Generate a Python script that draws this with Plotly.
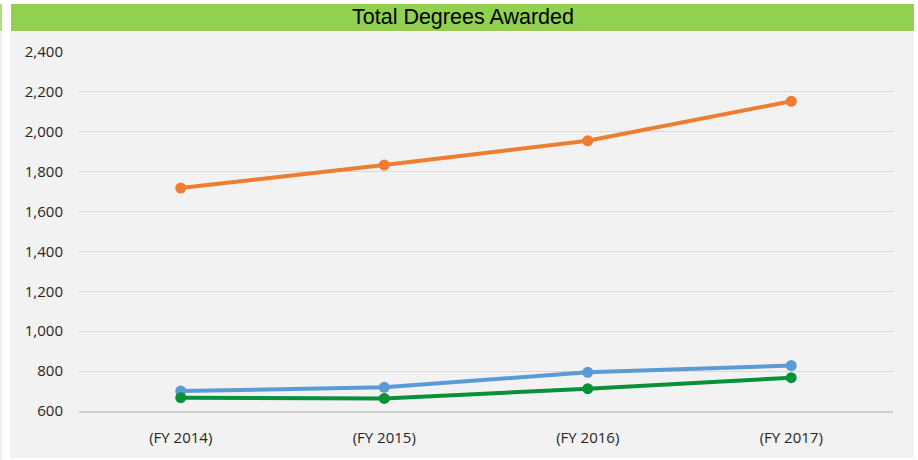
import plotly.graph_objects as go

categories = ["(FY 2014)", "(FY 2015)", "(FY 2016)", "(FY 2017)"]
series_orange = [1718, 1833, 1955, 2153]
series_blue = [700, 719, 794, 828]
series_green = [667, 663, 712, 767]
y_ticks = [600, 800, 1000, 1200, 1400, 1600, 1800, 2000, 2200, 2400]
y_tick_labels = ["600", "800", "1,000", "1,200", "1,400", "1,600", "1,800", "2,000", "2,200", "2,400"]

W, H = 918, 460
L, R, T, B = 79, 25, 52, 49
pw = W - L - R
ph = H - T - B

def px(x):
    return (x - L) / pw

def py(y):
    return (H - B - y) / ph

fig = go.Figure()
for vals, col in [(series_orange, "#ED7D31"), (series_blue, "#5B9BD5"), (series_green, "#079139")]:
    fig.add_trace(go.Scatter(
        x=categories, y=vals, mode="lines+markers",
        line=dict(color=col, width=4),
        marker=dict(color=col, size=11),
        showlegend=False, hoverinfo="skip",
    ))

shapes = [
    dict(type="rect", xref="paper", yref="paper", x0=px(10), x1=px(914), y0=py(458), y1=py(32),
         fillcolor="#F2F2F2", line=dict(width=0), layer="below"),
    dict(type="rect", xref="paper", yref="paper", x0=px(11), x1=px(914), y0=py(31), y1=py(4),
         fillcolor="#92D050", line=dict(width=0), layer="below"),
    dict(type="line", xref="paper", yref="paper", x0=px(1), x1=px(1), y0=py(460), y1=py(32),
         line=dict(color="#E0E0E0", width=1), layer="below"),
    dict(type="line", xref="paper", yref="paper", x0=px(1), x1=px(1), y0=py(31), y1=py(4),
         line=dict(color="#92D050", width=1.5), layer="below"),
]

fig.update_layout(
    width=W, height=H,
    margin=dict(l=L, r=R, t=T, b=B),
    paper_bgcolor="white",
    plot_bgcolor="rgba(0,0,0,0)",
    shapes=shapes,
    annotations=[dict(text="Total Degrees Awarded", xref="paper", yref="paper",
                      x=px(463), y=py(17.5), xanchor="center", yanchor="middle",
                      showarrow=False, font=dict(family="Liberation Sans, Arial", size=21.5, color="#000000"))],
    xaxis=dict(
        type="category", range=[-0.5, 3.5], showgrid=False, zeroline=False,
        showline=True, linecolor="#D0D0D0", linewidth=2,
        tickfont=dict(family="Open Sans", size=15, color="#262626"),
        ticks="", ticklabelstandoff=12, fixedrange=True,
    ),
    yaxis=dict(
        range=[600, 2400], tickvals=y_ticks, ticktext=y_tick_labels,
        showgrid=True, gridcolor="#D9D9D9", gridwidth=1, zeroline=False,
        showline=False, ticks="", ticklabelstandoff=15,
        tickfont=dict(family="Open Sans", size=15, color="#262626"),
        fixedrange=True,
    ),
)

fig.write_html("out.html", config={"displayModeBar": False, "staticPlot": True},
               post_script="document.body.style.margin='0';document.body.style.overflow='hidden';")
